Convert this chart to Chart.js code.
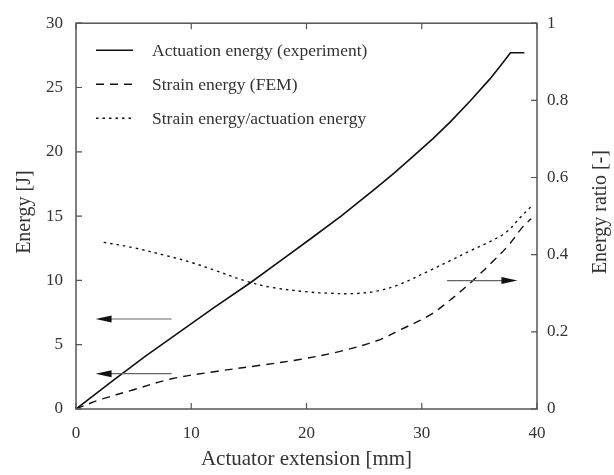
<!DOCTYPE html>
<html>
<head>
<meta charset="utf-8">
<script src="https://cdn.jsdelivr.net/npm/chart.js@4/dist/chart.umd.min.js"></script>
<style>
  html, body { margin: 0; padding: 0; background: #fff; }
  #wrap { width: 614px; height: 475px; }
</style>
</head>
<body>
<div id="wrap"><canvas id="grafico"></canvas></div>
<script>
// --- Datos ---
const extActuacion = [0, 3.2, 6, 9, 12, 15.1, 18, 20.3, 23, 26, 27.6, 29.2, 31, 32.5, 34.2, 35.9, 36.8, 37.7, 38.9];
const energiaActuacion = [0, 2.2, 4.1, 6.0, 7.9, 9.8, 11.7, 13.2, 15.0, 17.15, 18.35, 19.6, 21.05, 22.35, 23.95, 25.65, 26.65, 27.7, 27.7];

const extFEM = [0, 2, 5, 8.3, 12, 16, 19.4, 23, 26.4, 28, 30.7, 32.5, 34.2, 36.2, 37.5, 38.8, 39.5];
const energiaFEM = [0, 0.7, 1.5, 2.35, 2.9, 3.4, 3.85, 4.5, 5.4, 6.1, 7.3, 8.5, 9.8, 11.5, 12.7, 14.2, 14.8];

const extRatio = [2.4, 5, 7.9, 10, 12, 14.8, 17, 20.3, 22, 24, 26, 28, 30.7, 32.5, 34.2, 36, 37.4, 38.5, 39.5];
const ratio = [0.432, 0.418, 0.397, 0.38, 0.36, 0.331, 0.315, 0.303, 0.30, 0.299, 0.305, 0.322, 0.359, 0.385, 0.41, 0.435, 0.46, 0.495, 0.525];

const etiquetas = ['Actuation energy (experiment)', 'Strain energy (FEM)', 'Strain energy/actuation energy'];
const estilos = [[], [8, 6], [2.5, 4]];

// flechas: [x inicio, x fin, y, eje]
const flechas = [
    [8.3, 1.7, 7.0, 'y'],
    [8.3, 1.7, 2.75, 'y'],
    [32.2, 38.3, 0.333, 'y1']
];

const fuente = '"Liberation Serif", "Times New Roman", serif';
const gris = '#555';
const texto = '#333';

const unir = (xs, ys) => xs.map((x, i) => ({ x: x, y: ys[i] }));

// --- Plugin: marco, marcas hacia dentro, flechas, leyenda y títulos verticales ---
const marcoPlugin = {
    id: 'marco',
    afterDatasetsDraw(chart) {
        const { ctx, chartArea: a, scales } = chart;
        ctx.save();
        ctx.strokeStyle = gris;
        ctx.lineWidth = 1.5;
        ctx.strokeRect(a.left, a.top, a.right - a.left, a.bottom - a.top);

        ctx.lineWidth = 1.2;
        ctx.beginPath();
        scales.x.ticks.forEach(t => {
            const px = scales.x.getPixelForValue(t.value);
            ctx.moveTo(px, a.bottom); ctx.lineTo(px, a.bottom - 6);
            ctx.moveTo(px, a.top); ctx.lineTo(px, a.top + 6);
        });
        scales.y.ticks.forEach(t => {
            const py = scales.y.getPixelForValue(t.value);
            ctx.moveTo(a.left, py); ctx.lineTo(a.left + 6, py);
        });
        scales.y1.ticks.forEach(t => {
            const py = scales.y1.getPixelForValue(t.value);
            ctx.moveTo(a.right, py); ctx.lineTo(a.right - 6, py);
        });
        ctx.stroke();

        // flechas
        flechas.forEach(([x0, x1, yv, eje]) => {
            const px0 = scales.x.getPixelForValue(x0);
            const px1 = scales.x.getPixelForValue(x1);
            const py = scales[eje].getPixelForValue(yv);
            const dir = Math.sign(px1 - px0);
            ctx.strokeStyle = '#666';
            ctx.lineWidth = 1.2;
            ctx.beginPath();
            ctx.moveTo(px0, py);
            ctx.lineTo(px1 - dir * 10, py);
            ctx.stroke();
            ctx.fillStyle = '#111';
            ctx.beginPath();
            ctx.moveTo(px1, py);
            ctx.lineTo(px1 - dir * 16, py - 3.5);
            ctx.lineTo(px1 - dir * 16, py + 3.5);
            ctx.closePath();
            ctx.fill();
        });

        // leyenda
        ctx.font = '17.5px ' + fuente;
        ctx.textBaseline = 'middle';
        etiquetas.forEach((txt, i) => {
            const y = a.top + 27 + i * 34;
            ctx.strokeStyle = '#111';
            ctx.lineWidth = 1.4;
            ctx.setLineDash(estilos[i]);
            ctx.beginPath();
            ctx.moveTo(a.left + 20, y);
            ctx.lineTo(a.left + 57, y);
            ctx.stroke();
            ctx.setLineDash([]);
            ctx.fillStyle = texto;
            ctx.fillText(txt, a.left + 76, y + 1);
        });

        // títulos de los ejes verticales (ambos de abajo hacia arriba)
        ctx.font = '20px ' + fuente;
        ctx.textAlign = 'center';
        const yc = (a.top + a.bottom) / 2;
        [['Energy [J]', 25], ['Energy ratio [-]', 601]].forEach(([txt, x]) => {
            ctx.save();
            ctx.translate(x, yc - 4);
            ctx.rotate(-Math.PI / 2);
            ctx.fillText(txt, 0, 0);
            ctx.restore();
        });
        ctx.restore();
    }
};

const fmt = v => String(+Number(v).toFixed(1));

const ctxGrafico = document.getElementById('grafico').getContext('2d');
new Chart(ctxGrafico, {
    type: 'line',
    data: {
        datasets: [
            {
                label: etiquetas[0],
                data: unir(extActuacion, energiaActuacion),
                borderColor: '#111', borderWidth: 1.6, pointRadius: 0, tension: 0,
                yAxisID: 'y'
            },
            {
                label: etiquetas[1],
                data: unir(extFEM, energiaFEM),
                borderColor: '#111', borderWidth: 1.4, borderDash: estilos[1], pointRadius: 0, tension: 0.35,
                yAxisID: 'y'
            },
            {
                label: etiquetas[2],
                data: unir(extRatio, ratio),
                borderColor: '#111', borderWidth: 1.4, borderDash: estilos[2], pointRadius: 0, tension: 0.35,
                yAxisID: 'y1'
            }
        ]
    },
    options: {
        responsive: true,
        maintainAspectRatio: false,
        animation: false,
        layout: { padding: { top: 13, left: 0, right: 0, bottom: 0 } },
        plugins: { legend: { display: false }, tooltip: { enabled: false } },
        scales: {
            x: {
                type: 'linear', min: 0, max: 40,
                ticks: { stepSize: 10, padding: 14, color: texto, font: { family: fuente, size: 17 }, callback: fmt },
                grid: { display: false, drawTicks: false },
                border: { display: false },
                title: { display: true, text: 'Actuator extension [mm]', color: texto, font: { family: fuente, size: 21 }, padding: { top: 0, bottom: 3 } },
                afterFit(s) { s.height = 66; }
            },
            y: {
                position: 'left', min: 0, max: 30,
                ticks: { stepSize: 5, padding: 13, color: texto, font: { family: fuente, size: 17 }, callback: fmt },
                grid: { display: false, drawTicks: false },
                border: { display: false },
                afterFit(s) { s.width = 76; }
            },
            y1: {
                position: 'right', min: 0, max: 1,
                ticks: { stepSize: 0.2, padding: 10, color: texto, font: { family: fuente, size: 17 }, callback: fmt },
                grid: { display: false, drawTicks: false },
                border: { display: false },
                afterFit(s) { s.width = 77; }
            }
        }
    },
    plugins: [marcoPlugin]
});
</script>
</body>
</html>
